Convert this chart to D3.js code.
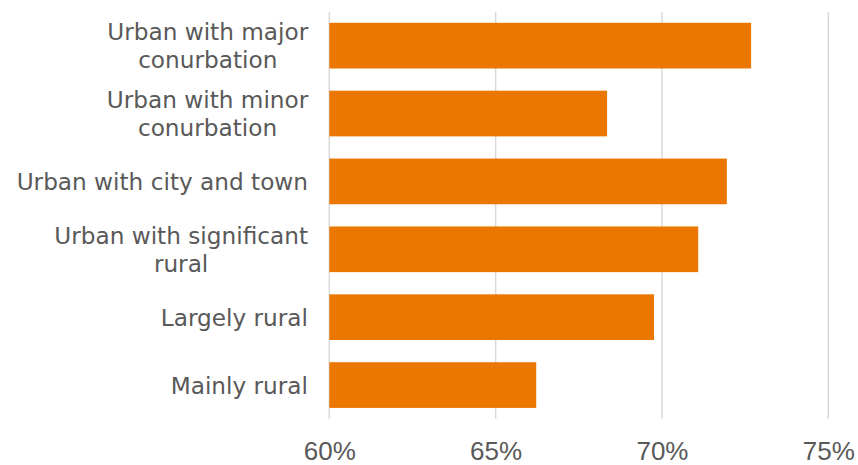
<!DOCTYPE html>
<html>
<head>
<meta charset="utf-8">
<script src="https://cdn.jsdelivr.net/npm/d3@7"></script>
<style>
  html, body { margin: 0; padding: 0; background: #ffffff; }
  svg { display: block; }
  text { fill: #595959; }
</style>
</head>
<body>
<svg id="chart" width="858" height="465"></svg>
<script>
const categories = [
  "Urban with major conurbation",
  "Urban with minor conurbation",
  "Urban with city and town",
  "Urban with significant rural",
  "Largely rural",
  "Mainly rural"
];
const categoryLines = [
  ["Urban with major", "conurbation"],
  ["Urban with minor", "conurbation"],
  ["Urban with city and town"],
  ["Urban with significant", "rural"],
  ["Largely rural"],
  ["Mainly rural"]
];
const values = [72.68, 68.35, 71.95, 71.09, 69.76, 66.22];
const xTicks = [60, 65, 70, 75];

const svg = d3.select("#chart");
const margin = { left: 329.3, right: 858 - 828.3, top: 11.7, bottom: 465 - 419 };
const labelFont = '"DejaVu Sans", Verdana, sans-serif';
const tickFont = '"Liberation Sans", Arial, sans-serif';

const x = d3.scaleLinear().domain([60, 75]).range([margin.left, 828.3]);
const y = d3.scaleBand().domain(categories).range([margin.top, 419]).paddingInner(0.327).paddingOuter(0.1635);

// gridlines
svg.append("g").selectAll("line").data(xTicks).join("line")
  .attr("x1", d => x(d)).attr("x2", d => x(d))
  .attr("y1", margin.top).attr("y2", 419)
  .attr("stroke", "#d9d9d9").attr("stroke-width", 1.5);

// bars
svg.append("g").selectAll("rect").data(categories).join("rect")
  .attr("x", x(60))
  .attr("y", d => y(d))
  .attr("width", (d, i) => x(values[i]) - x(60))
  .attr("height", y.bandwidth())
  .attr("fill", "#ec7700");

// x axis labels
const xAxis = d3.axisBottom(x).tickValues(xTicks).tickFormat(d => d + "%").tickSize(0).tickPadding(0);
const gx = svg.append("g").attr("transform", "translate(0,459.5)").call(xAxis);
gx.select(".domain").remove();
gx.selectAll("text").attr("dy", 0).attr("y", 0).attr("font-size", 26).attr("fill", "#595959")
  .style("font-family", tickFont);

// category labels (block right-aligned, lines centred within block)
const lineH = 27.6;
const labelRight = 308;
svg.append("g").selectAll("text").data(categories).join("text")
  .attr("text-anchor", "middle")
  .attr("font-size", 23.2)
  .style("font-family", labelFont)
  .attr("y", d => y(d) + y.bandwidth() / 2)
  .each(function(d, i) {
    const lines = categoryLines[i];
    const t = d3.select(this);
    const off = -(lines.length - 1) * lineH / 2;
    const spans = lines.map((ln, j) =>
      t.append("tspan")
        .attr("dy", j === 0 ? off + 8.5 : lineH)
        .text(ln));
    const maxW = d3.max(spans, s => s.node().getComputedTextLength());
    const cx = labelRight - maxW / 2;
    spans.forEach(s => s.attr("x", cx));
  });
</script>
</body>
</html>
